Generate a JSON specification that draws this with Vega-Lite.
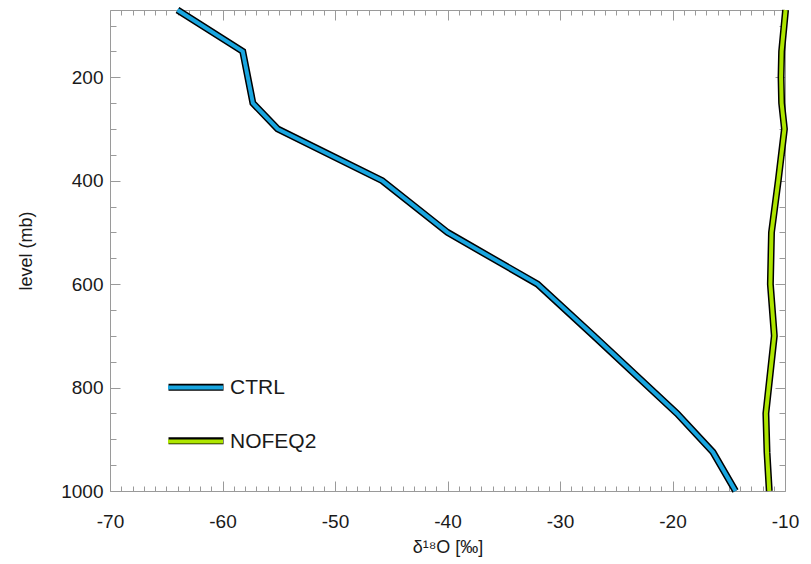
{
  "$schema": "https://vega.github.io/schema/vega-lite/v6.json",
  "width": 675,
  "height": 481,
  "autosize": "none",
  "padding": {"left": 110, "top": 10, "right": 26, "bottom": 73},
  "background": "white",
  "config": {
    "view": {"stroke": null},
    "font": "Liberation Sans",
    "axis": {
      "grid": false,
      "domainColor": "#9a9a9a",
      "tickColor": "#9a9a9a",
      "labelColor": "#1a1a1a",
      "titleColor": "#1a1a1a",
      "labelFontSize": 19,
      "titleFontSize": 18,
      "titleFontWeight": "normal",
      "labelOverlap": false,
      "labelFlush": false
    },
    "legend": {
      "orient": "none",
      "title": null,
      "labelOffset": 5,
      "labelFontSize": 21,
      "labelColor": "#1a1a1a",
      "symbolType": "stroke",
      "symbolSize": 3025
    }
  },
  "data": {
    "values": [
      {"run": "CTRL", "level": 70, "d18O": -64.0},
      {"run": "CTRL", "level": 150, "d18O": -58.2},
      {"run": "CTRL", "level": 250, "d18O": -57.3},
      {"run": "CTRL", "level": 300, "d18O": -55.1},
      {"run": "CTRL", "level": 400, "d18O": -45.8},
      {"run": "CTRL", "level": 500, "d18O": -40.0},
      {"run": "CTRL", "level": 600, "d18O": -32.0},
      {"run": "CTRL", "level": 700, "d18O": -27.0},
      {"run": "CTRL", "level": 850, "d18O": -19.6},
      {"run": "CTRL", "level": 925, "d18O": -16.4},
      {"run": "CTRL", "level": 1000, "d18O": -14.4},
      {"run": "NOFEQ2", "level": 70, "d18O": -9.95},
      {"run": "NOFEQ2", "level": 150, "d18O": -10.3},
      {"run": "NOFEQ2", "level": 200, "d18O": -10.35},
      {"run": "NOFEQ2", "level": 250, "d18O": -10.3},
      {"run": "NOFEQ2", "level": 300, "d18O": -10.05},
      {"run": "NOFEQ2", "level": 400, "d18O": -10.6},
      {"run": "NOFEQ2", "level": 500, "d18O": -11.2},
      {"run": "NOFEQ2", "level": 600, "d18O": -11.3},
      {"run": "NOFEQ2", "level": 700, "d18O": -10.95},
      {"run": "NOFEQ2", "level": 850, "d18O": -11.7},
      {"run": "NOFEQ2", "level": 925, "d18O": -11.6},
      {"run": "NOFEQ2", "level": 1000, "d18O": -11.4}
    ]
  },
  "layer": [
    {
      "mark": {"type": "line", "strokeWidth": 7},
      "encoding": {
        "x": {
          "field": "d18O", "type": "quantitative",
          "scale": {"domain": [-70, -10], "nice": false, "zero": false},
          "axis": {
            "orient": "bottom",
            "values": [-70,-69,-68,-67,-66,-65,-64,-63,-62,-61,-60,-59,-58,-57,-56,-55,-54,-53,-52,-51,-50,-49,-48,-47,-46,-45,-44,-43,-42,-41,-40,-39,-38,-37,-36,-35,-34,-33,-32,-31,-30,-29,-28,-27,-26,-25,-24,-23,-22,-21,-20,-19,-18,-17,-16,-15,-14,-13,-12,-11,-10],
            "labelExpr": "datum.value % 10 === 0 ? '' + datum.value : ''",
            "tickSize": {"condition": {"test": "datum.value % 10 === 0", "value": -10}, "value": -5},
            "labelPadding": 31,
            "title": "δ¹⁸O [‰]",
            "titlePadding": 2
          }
        },
        "y": {
          "field": "level", "type": "quantitative",
          "scale": {"domain": [70, 1000], "nice": false, "zero": false, "reverse": true},
          "axis": {
            "orient": "left",
            "values": [100,150,200,250,300,350,400,450,500,550,600,650,700,750,800,850,900,950,1000],
            "labelExpr": "datum.value % 200 === 0 ? '' + datum.value : ''",
            "tickSize": {"condition": {"test": "datum.value % 200 === 0", "value": -10}, "value": -6},
            "labelPadding": 17,
            "title": "level (mb)",
            "titlePadding": 25
          }
        },
        "order": {"field": "level", "type": "quantitative"},
        "stroke": {
          "field": "run", "type": "nominal",
          "scale": {"domain": ["NOFEQ2", "CTRL"], "range": ["#000000", "#000000"]},
          "legend": {"legendX": 55, "legendY": 346.3, "rowPadding": 8.5, "symbolStrokeWidth": 7, "labelExpr": "''", "zindex": 1}
        }
      }
    },
    {
      "mark": {"type": "line", "strokeWidth": 4},
      "encoding": {
        "x": {
          "field": "d18O", "type": "quantitative",
          "axis": {
            "orient": "top",
            "values": [-70,-69,-68,-67,-66,-65,-64,-63,-62,-61,-60,-59,-58,-57,-56,-55,-54,-53,-52,-51,-50,-49,-48,-47,-46,-45,-44,-43,-42,-41,-40,-39,-38,-37,-36,-35,-34,-33,-32,-31,-30,-29,-28,-27,-26,-25,-24,-23,-22,-21,-20,-19,-18,-17,-16,-15,-14,-13,-12,-11,-10],
            "labels": false,
            "title": null,
            "tickSize": {"condition": {"test": "datum.value % 10 === 0", "value": -10}, "value": -5}
          }
        },
        "y": {
          "field": "level", "type": "quantitative",
          "axis": {
            "orient": "right",
            "values": [100,150,200,250,300,350,400,450,500,550,600,650,700,750,800,850,900,950,1000],
            "labels": false,
            "title": null,
            "tickSize": {"condition": {"test": "datum.value % 200 === 0", "value": -10}, "value": -6}
          }
        },
        "order": {"field": "level", "type": "quantitative"},
        "color": {
          "field": "run", "type": "nominal",
          "scale": {"domain": ["CTRL", "NOFEQ2"], "range": ["#19a6e0", "#aee600"]},
          "legend": {"legendX": 56, "legendY": 348, "rowPadding": 14, "symbolStrokeWidth": 4, "zindex": 2}
        }
      }
    }
  ],
  "resolve": {"axis": {"x": "independent", "y": "independent"}}
}
